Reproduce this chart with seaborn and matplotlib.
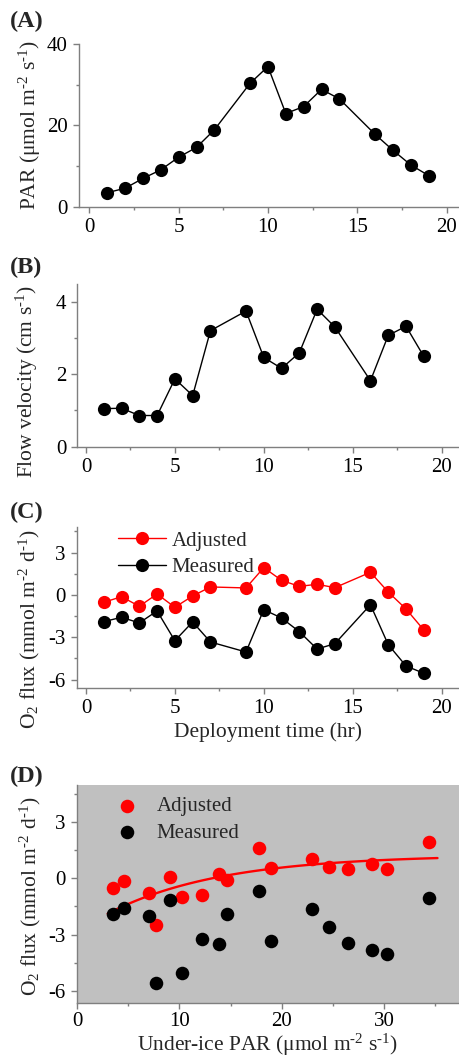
import numpy as np
import pandas as pd
import matplotlib
matplotlib.use('Agg')
import matplotlib.pyplot as plt
import seaborn as sns
from matplotlib.ticker import MultipleLocator

# deployment hours (no 8 or 15)
hours = [1, 2, 3, 4, 5, 6, 7, 9, 10, 11, 12, 13, 14, 16, 17, 18, 19]
par = [3.5, 4.6, 7.0, 9.1, 12.2, 14.6, 18.9, 30.3, 34.4, 22.9, 24.6, 28.8, 26.5, 17.8, 13.9, 10.3, 7.7]
flow = [1.05, 1.06, 0.86, 0.86, 1.87, 1.41, 3.2, 3.74, 2.46, 2.16, 2.59, 3.79, 3.3, 1.82, 3.07, 3.32, 2.49]
adjusted = [-0.52, -0.12, -0.8, 0.07, -0.87, -0.07, 0.57, 0.5, 1.94, 1.04, 0.61, 0.76, 0.52, 1.61, 0.21, -0.99, -2.48]
measured = [-1.89, -1.58, -1.98, -1.13, -3.24, -1.91, -3.33, -4.04, -1.04, -1.63, -2.6, -3.83, -3.45, -0.69, -3.52, -5.03, -5.55]

# saturating fit drawn through adjusted flux vs PAR
fit_asym, fit_amp, fit_k = 1.25, 4.1, 0.09
fit_x = np.linspace(3.0, 35.2, 100)
fit_y = fit_asym - fit_amp * np.exp(-fit_k * fit_x)

df = pd.DataFrame({'hour': hours, 'par': par, 'flow': flow,
                   'adjusted': adjusted, 'measured': measured})

sns.set_style('ticks')
plt.rcParams['font.family'] = ['Liberation Serif', 'DejaVu Serif']
plt.rcParams['mathtext.default'] = 'regular'
plt.rcParams['axes.unicode_minus'] = False

fig = plt.figure(figsize=(4.59, 10.6), dpi=100)
W, H = 459, 1060

def make_ax(left, bottom, top):
    return fig.add_axes([left / W, 1 - bottom / H, 1 - left / W, (bottom - top) / H])

axA = make_ax(79, 207, 43.7)
axB = make_ax(77.3, 446.7, 283.5)
axC = make_ax(76.7, 687.7, 526.7)
axD = make_ax(77, 1002.7, 785.3)

ms = 9.5
grey = '#7f7f7f'
hy = '\u2010'  # hyphen-style minus in superscripts

sns.lineplot(data=df, x='hour', y='par', ax=axA, color='black', lw=1,
             marker='o', markersize=ms, markeredgewidth=0)
sns.lineplot(data=df, x='hour', y='flow', ax=axB, color='black', lw=1,
             marker='o', markersize=ms, markeredgewidth=0)
sns.lineplot(data=df, x='hour', y='adjusted', ax=axC, color='#ff0000', lw=1,
             marker='o', markersize=ms, markeredgewidth=0, label='Adjusted')
sns.lineplot(data=df, x='hour', y='measured', ax=axC, color='black', lw=1,
             marker='o', markersize=ms, markeredgewidth=0, label='Measured')

sns.scatterplot(data=df, x='par', y='adjusted', ax=axD, color='#ff0000', s=95,
                linewidth=0, label='Adjusted', zorder=3)
sns.scatterplot(data=df, x='par', y='measured', ax=axD, color='black', s=95,
                linewidth=0, label='Measured', zorder=3)
axD.plot(fit_x, fit_y, color='#ff0000', lw=1.7, zorder=2)
axD.set_facecolor('#c0c0c0')

axA.set_xlim(-0.58, 20.7)
axA.set_ylim(0, 40)
axA.yaxis.set_major_locator(MultipleLocator(20))
axA.yaxis.set_minor_locator(MultipleLocator(10))

axB.set_xlim(-0.49, 20.98)
axB.set_ylim(0, 4.5)
axB.yaxis.set_major_locator(MultipleLocator(2))
axB.yaxis.set_minor_locator(MultipleLocator(1))

axC.set_xlim(-0.52, 20.98)
axC.set_ylim(-6.57, 4.84)

axD.set_xlim(0, 37.3)
axD.set_ylim(-6.62, 4.95)
axD.xaxis.set_major_locator(MultipleLocator(10))
axD.xaxis.set_minor_locator(MultipleLocator(5))

for ax in [axA, axB, axC]:
    ax.xaxis.set_major_locator(MultipleLocator(5))
    ax.xaxis.set_minor_locator(MultipleLocator(2.5))
for ax in [axC, axD]:
    ax.yaxis.set_major_locator(MultipleLocator(3))
    ax.yaxis.set_minor_locator(MultipleLocator(1.5))

for ax in [axA, axB, axC, axD]:
    sns.despine(ax=ax)
    for s in ['left', 'bottom']:
        ax.spines[s].set_color(grey)
        ax.spines[s].set_linewidth(1)
    ax.tick_params(which='major', direction='out', length=4, width=1, color=grey,
                   labelsize=15, pad=4, labelcolor='black')
    ax.tick_params(which='minor', direction='out', length=2.5, width=1, color=grey)
    ax.set_xlabel('')

lab_fs = 15.5
axA.set_ylabel(f'PAR (μmol m$^{{{hy}2}}$ s$^{{{hy}1}}$)', fontsize=lab_fs)
axB.set_ylabel(f'Flow velocity (cm s$^{{{hy}1}}$)', fontsize=lab_fs)
axC.set_ylabel(f'O$_2$ flux (mmol m$^{{{hy}2}}$ d$^{{{hy}1}}$)', fontsize=lab_fs)
axD.set_ylabel(f'O$_2$ flux (mmol m$^{{{hy}2}}$ d$^{{{hy}1}}$)', fontsize=lab_fs)
axA.yaxis.set_label_coords(-0.095, 0.5)
axB.yaxis.set_label_coords(-0.098, 0.40)
axC.yaxis.set_label_coords(-0.09, 0.36)
axD.yaxis.set_label_coords(-0.089, 0.49)

axC.set_xlabel('Deployment time (hr)', fontsize=lab_fs, labelpad=3)
axD.set_xlabel(f'Under-ice PAR (μmol m$^{{{hy}2}}$ s$^{{{hy}1}}$)', fontsize=lab_fs, labelpad=0)
axD.tick_params(axis='x', which='major', pad=3)

axC.legend(loc='upper left', bbox_to_anchor=(0.06, 1.09), frameon=False,
           fontsize=15, handlelength=2.3, handletextpad=0.25, labelspacing=0.35)
axD.legend(loc='upper left', bbox_to_anchor=(0.055, 1.035), frameon=False,
           fontsize=15, handlelength=1.0, handletextpad=0.9, labelspacing=0.35,
           scatterpoints=1)

for lab, y in [('(A)', 21), ('(B)', 267), ('(C)', 512), ('(D)', 776)]:
    fig.text(10 / W, 1 - y / H, lab, fontsize=17.5, fontweight='bold', va='center', ha='left')

fig.savefig('out.png', dpi=100)
